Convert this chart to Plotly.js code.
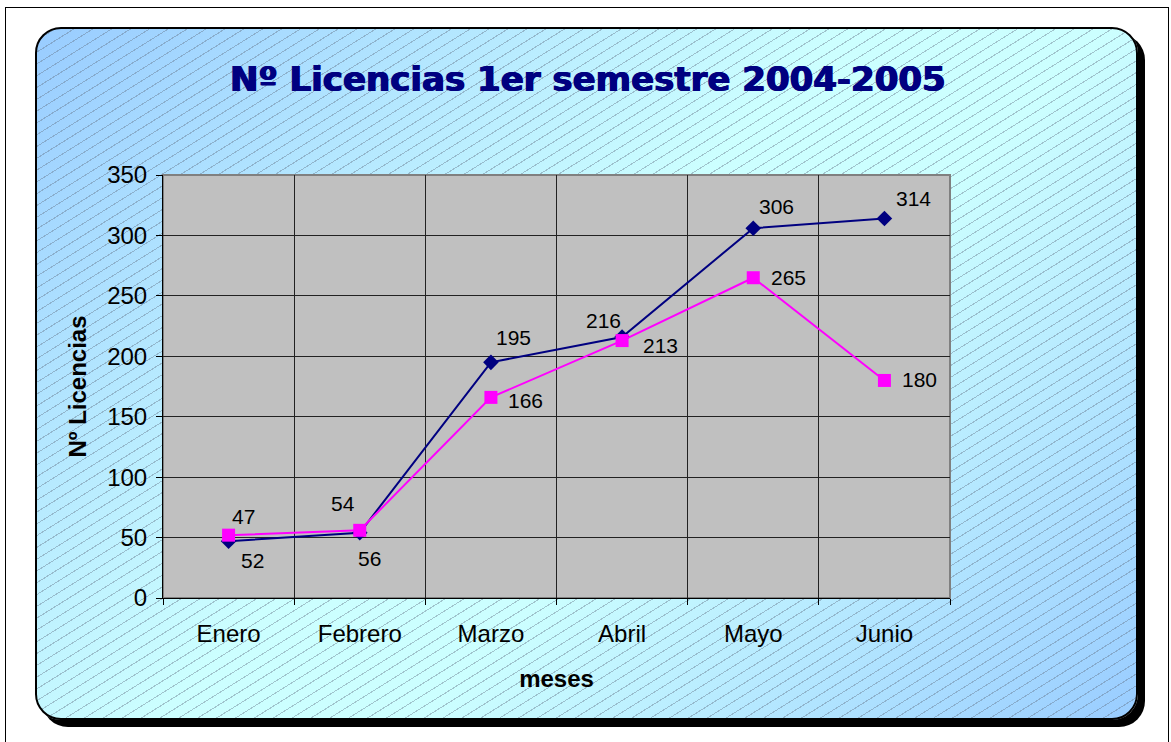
<!DOCTYPE html>
<html>
<head>
<meta charset="utf-8">
<script src="https://cdn.plot.ly/plotly-3.0.1.min.js"></script>
<style>
  body { margin: 0; background: #fff; }
  #frame {
    position: absolute; left: 5px; top: 7px; width: 1164px; height: 760px;
    border: 1px solid #000; box-sizing: border-box;
  }
  #card {
    position: absolute; left: 35px; top: 27px; width: 1103px; height: 693px;
    box-sizing: border-box; border: 2px solid #000; border-radius: 26px;
    box-shadow: 7px 7px 0 #000;
    background:
      repeating-linear-gradient(148deg, rgba(0,0,0,0) 0px, rgba(0,0,0,0) 9px, rgba(100,115,135,0.42) 9px, rgba(100,115,135,0.42) 10px),
      linear-gradient(135deg, #99ccff 0%, #ccffff 45%, #ccffff 60%, #99ccff 100%);
  }
  #plot { position: absolute; left: 0; top: 0; width: 1171px; height: 742px; }
</style>
</head>
<body>
<div id="frame"></div>
<div id="card"></div>
<div id="plot"></div>
<script>
const meses = ["Enero", "Febrero", "Marzo", "Abril", "Mayo", "Junio"];
const serieAzul = [47, 54, 195, 216, 306, 314];
const serieRosa = [52, 56, 166, 213, 265, 180];

// label offsets from each point, in pixels (x right, y up)
const shiftAzul = [[15, 25], [-17, 29], [23, 25], [-19, 16], [23, 22], [29, 20]];
const shiftRosa = [[24, -25], [10, -28], [35, -3], [38, -5], [35, 0], [35, 1]];

const font = "Liberation Sans, Arial, sans-serif";

const azul = {
  x: meses,
  y: serieAzul,
  mode: "lines+markers",
  type: "scatter",
  line: { color: "#000080", width: 2 },
  marker: { symbol: "diamond", size: 12, color: "#000080" },
  cliponaxis: false
};

const rosa = {
  x: meses,
  y: serieRosa,
  mode: "lines+markers",
  type: "scatter",
  line: { color: "#ff00ff", width: 2 },
  marker: { symbol: "square", size: 13, color: "#ff00ff" },
  cliponaxis: false
};

function labels(values, shifts) {
  return values.map((v, i) => ({
    x: meses[i], y: v, text: String(v),
    xshift: shifts[i][0], yshift: shifts[i][1],
    showarrow: false, xanchor: "center", yanchor: "middle",
    font: { family: font, size: 21, color: "#000" }
  }));
}

const tickFont = { family: font, size: 24, color: "#000" };

const layout = {
  width: 1171,
  height: 742,
  margin: { l: 163, r: 221, t: 175, b: 144 },
  paper_bgcolor: "rgba(0,0,0,0)",
  plot_bgcolor: "#c0c0c0",
  showlegend: false,
  title: {
    text: "Nº Licencias 1er semestre 2004-2005",
    font: { family: "DejaVu Sans, sans-serif", size: 34, color: "#000080", weight: "bold",
            shadow: "0.7px 0 0 #000080, -0.7px 0 0 #000080" },
    x: 0.502, xanchor: "center",
    y: 0.893, yanchor: "middle"
  },
  xaxis: {
    type: "category",
    range: [-0.5, 5.5],
    tickson: "boundaries",
    ticks: "outside", ticklen: 6, tickcolor: "#000",
    showline: true, linecolor: "#000", linewidth: 1,
    showgrid: true, gridcolor: "#222", gridwidth: 1,
    tickfont: tickFont,
    ticklabelstandoff: 14,
    title: {
      text: "meses",
      font: { family: font, size: 24, color: "#000", weight: "bold" },
      standoff: 24
    }
  },
  yaxis: {
    range: [0, 350],
    dtick: 50,
    ticks: "outside", ticklen: 6, tickcolor: "#000",
    showline: true, linecolor: "#000", linewidth: 1,
    showgrid: true, gridcolor: "#222", gridwidth: 1,
    zeroline: false,
    tickfont: tickFont,
    ticklabelstandoff: 4,
    title: {
      text: "Nº Licencias",
      font: { family: font, size: 24, color: "#000", weight: "bold" },
      standoff: 13
    }
  },
  annotations: [...labels(serieAzul, shiftAzul), ...labels(serieRosa, shiftRosa)],
  shapes: [
    {
      type: "rect", xref: "paper", yref: "paper", x0: 0, x1: 1, y0: 0, y1: 1,
      line: { color: "#808080", width: 2 }, fillcolor: "rgba(0,0,0,0)", layer: "below"
    }
  ]
};

Plotly.newPlot("plot", [azul, rosa], layout, { displayModeBar: false, staticPlot: true });
</script>
</body>
</html>
